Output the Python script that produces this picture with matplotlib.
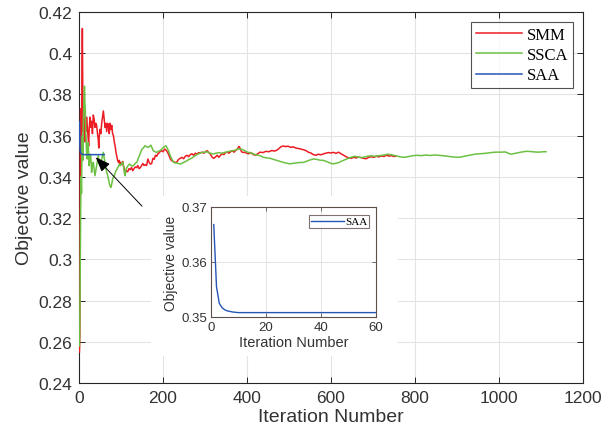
import numpy as np
import matplotlib
matplotlib.use("Agg")
import matplotlib.pyplot as plt
from matplotlib.patches import Rectangle

# SMM (red)
smm_it = [1, 2, 3, 4, 5, 6, 7, 8, 9, 10, 11, 12, 13, 14, 15, 16, 18, 20, 22, 23, 24, 26, 28, 30,
          32, 34, 36, 38, 40, 42, 44, 46, 47, 48, 50, 52, 54, 56, 58, 60, 62, 64, 66, 68, 70, 72,
          74, 76, 78, 80, 82, 84, 86, 88, 90, 92, 94, 96, 98, 100, 102, 104, 106, 108, 110, 113,
          116, 119, 122, 125, 128, 131, 134, 137, 140, 143, 146, 149, 152, 155, 158, 161, 164,
          167, 170, 173, 176, 179, 182, 185, 188, 191, 194, 197, 200, 204, 208, 212, 215, 218,
          221, 225, 229, 233, 237, 241, 245, 249, 253, 257, 261, 265, 269, 273, 277, 281, 285,
          289, 293, 297, 301, 305, 309, 313, 317, 321, 325, 329, 333, 337, 341, 345, 349, 353,
          357, 361, 365, 369, 373, 377, 381, 384, 387, 391, 395, 399, 404, 409, 414, 419, 424,
          431, 438, 445, 452, 459, 466, 473, 480, 486, 492, 498, 504, 510, 516, 522, 528, 534,
          540, 546, 552, 558, 564, 570, 576, 582, 588, 594, 600, 606, 612, 618, 624, 630, 636,
          642, 648, 654, 660, 666, 672, 678, 684, 690, 696, 702, 708, 714, 720, 726, 732, 738,
          744, 750, 755]
smm_val = [0.255, 0.263, 0.346, 0.373, 0.338, 0.365, 0.398, 0.412, 0.380, 0.362, 0.372, 0.360,
           0.368, 0.357, 0.366, 0.362, 0.369, 0.364, 0.358, 0.355, 0.362, 0.369, 0.364, 0.367,
           0.361, 0.370, 0.368, 0.364, 0.366, 0.365, 0.361, 0.358, 0.354, 0.359, 0.363, 0.361,
           0.366, 0.369, 0.372, 0.368, 0.364, 0.366, 0.362, 0.366, 0.365, 0.361, 0.366, 0.363,
           0.365, 0.361, 0.360, 0.357, 0.355, 0.352, 0.350, 0.348, 0.347, 0.348, 0.346, 0.347,
           0.346, 0.3475, 0.345, 0.344, 0.342, 0.343, 0.3425, 0.344, 0.3435, 0.3445, 0.343,
           0.344, 0.3448, 0.3445, 0.3455, 0.344, 0.3445, 0.3455, 0.3465, 0.3455, 0.346, 0.3455,
           0.3487, 0.347, 0.3462, 0.3465, 0.349, 0.3485, 0.3505, 0.350, 0.3512, 0.3518, 0.3524,
           0.3527, 0.3522, 0.3535, 0.3528, 0.3515, 0.350, 0.3485, 0.3478, 0.3474, 0.347, 0.3472,
           0.3485, 0.349, 0.3495, 0.3488, 0.350, 0.3505, 0.3498, 0.3508, 0.3512, 0.3505, 0.3515,
           0.351, 0.3518, 0.3516, 0.352, 0.3515, 0.3522, 0.3527, 0.3518, 0.351, 0.3495, 0.349,
           0.3497, 0.3505, 0.3495, 0.3505, 0.3512, 0.3508, 0.3518, 0.352, 0.3515, 0.3522, 0.3527,
           0.352, 0.3528, 0.3535, 0.3548, 0.3538, 0.3522, 0.3518, 0.352, 0.3515, 0.3512, 0.3518,
           0.351, 0.3505, 0.351, 0.352, 0.3518, 0.3524, 0.3522, 0.3528, 0.3525, 0.3532, 0.3545,
           0.355, 0.3547, 0.3549, 0.3543, 0.3546, 0.354, 0.3538, 0.3535, 0.3532, 0.3528, 0.352,
           0.3516, 0.3508, 0.3505, 0.351, 0.3507, 0.3512, 0.3515, 0.3518, 0.3516, 0.3519, 0.3514,
           0.352, 0.3512, 0.3505, 0.3498, 0.3492, 0.349, 0.3495, 0.3492, 0.3496, 0.3493, 0.349,
           0.3488, 0.3495, 0.3498, 0.3495, 0.350, 0.3497, 0.3502, 0.3499, 0.3505, 0.3501, 0.3503,
           0.3499, 0.3501]

# SSCA (green)
ssca_it = [1, 2, 3, 4, 5, 6, 7, 8, 9, 10, 11, 12, 13, 14, 15, 16, 17, 18, 19, 20, 21, 22, 23,
           24, 25, 26, 28, 30, 32, 34, 36, 38, 40, 42, 44, 46, 48, 50, 52, 54, 56, 58, 60, 62,
           64, 66, 68, 70, 72, 74, 76, 78, 80, 82, 84, 86, 88, 90, 92, 94, 96, 98, 100, 102, 104,
           106, 108, 110, 112, 114, 117, 120, 123, 126, 129, 132, 135, 138, 141, 144, 147, 150,
           153, 157, 161, 165, 168, 171, 174, 177, 181, 185, 189, 193, 197, 201, 204, 207, 210,
           213, 216, 219, 222, 225, 229, 233, 237, 241, 245, 249, 253, 257, 261, 265, 269, 273,
           277, 281, 285, 289, 294, 299, 304, 309, 314, 319, 324, 329, 334, 339, 344, 349, 354,
           359, 364, 369, 374, 379, 384, 389, 394, 399, 405, 411, 417, 423, 431, 439, 447, 455,
           463, 471, 479, 487, 495, 502, 510, 518, 526, 534, 542, 550, 558, 566, 574, 582, 590,
           598, 605, 612, 619, 626, 633, 641, 649, 657, 665, 673, 681, 689, 697, 705, 715, 725,
           735, 745, 755, 765, 775, 785, 795, 805, 815, 825, 835, 845, 855, 865, 875, 885, 895,
           905, 915, 925, 935, 945, 955, 965, 975, 985, 995, 1005, 1015, 1022, 1028, 1035, 1045,
           1055, 1065, 1075, 1085, 1095, 1105, 1112]
ssca_val = [0.258, 0.270, 0.300, 0.325, 0.340, 0.332, 0.352, 0.360, 0.348, 0.365, 0.372, 0.378,
            0.384, 0.376, 0.373, 0.362, 0.358, 0.352, 0.349, 0.3487, 0.353, 0.3567, 0.350,
            0.3454, 0.347, 0.351, 0.3503, 0.3422, 0.346, 0.3471, 0.344, 0.3406, 0.343, 0.3454,
            0.348, 0.3503, 0.347, 0.3454, 0.347, 0.3487, 0.350, 0.3519, 0.349, 0.3471, 0.344,
            0.3422, 0.341, 0.339, 0.337, 0.3355, 0.3349, 0.3365, 0.339, 0.3398, 0.3406, 0.3418,
            0.343, 0.3435, 0.3446, 0.345, 0.3462, 0.3455, 0.3458, 0.3468, 0.3471, 0.3455, 0.3418,
            0.3406, 0.3435, 0.3446, 0.3455, 0.3462, 0.3458, 0.3452, 0.3454, 0.346, 0.3468, 0.3471,
            0.349, 0.3503, 0.352, 0.3535, 0.354, 0.3551, 0.3546, 0.3543, 0.3548, 0.3554, 0.354,
            0.3527, 0.3522, 0.3519, 0.3525, 0.3527, 0.3535, 0.3543, 0.3548, 0.3551, 0.354, 0.3527,
            0.351, 0.3495, 0.3482, 0.3471, 0.3468, 0.3467, 0.3465, 0.3462, 0.3466, 0.347, 0.3474,
            0.3478, 0.3484, 0.3487, 0.3492, 0.3498, 0.3503, 0.3508, 0.3512, 0.3516, 0.3519, 0.352,
            0.3522, 0.3518, 0.3514, 0.3511, 0.3514, 0.3516, 0.3518, 0.3515, 0.3517, 0.352, 0.3522,
            0.3525, 0.3527, 0.3528, 0.3531, 0.3535, 0.3535, 0.3533, 0.3528, 0.3522, 0.3518,
            0.3515, 0.351, 0.3506, 0.3503, 0.3495, 0.3492, 0.349, 0.3485, 0.348, 0.3475, 0.347,
            0.3466, 0.3463, 0.3466, 0.3468, 0.347, 0.347, 0.3476, 0.3482, 0.3487, 0.3485, 0.3481,
            0.348, 0.3474, 0.3467, 0.3463, 0.3466, 0.347, 0.3477, 0.3483, 0.349, 0.3496, 0.350,
            0.3496, 0.3494, 0.3497, 0.3501, 0.3502, 0.350, 0.3503, 0.3506, 0.351, 0.3507, 0.3502,
            0.3497, 0.3495, 0.3499, 0.3503, 0.3505, 0.3503, 0.3506, 0.3504, 0.3506, 0.3505,
            0.3503, 0.3501, 0.3498, 0.3496, 0.3495, 0.3499, 0.3503, 0.3507, 0.3511, 0.3512,
            0.3514, 0.3516, 0.3519, 0.352, 0.352, 0.3521, 0.3515, 0.351, 0.3513, 0.3517, 0.3521,
            0.3524, 0.3523, 0.3521, 0.352, 0.3522, 0.3522]

# SAA (blue), also shown in the inset
saa_it = [1, 2, 3, 4, 5, 6, 7, 8, 9, 10, 15, 20, 30, 40, 50, 60]
saa_val = [0.3668, 0.3555, 0.3525, 0.3517, 0.3513, 0.3511, 0.3510, 0.3509, 0.35085, 0.3508,
           0.3508, 0.3508, 0.3508, 0.3508, 0.3508, 0.3508]

main_xticks = [0, 200, 400, 600, 800, 1000, 1200]
main_yticks = [0.24, 0.26, 0.28, 0.3, 0.32, 0.34, 0.36, 0.38, 0.4, 0.42]
main_ylabels = ["0.24", "0.26", "0.28", "0.3", "0.32", "0.34", "0.36", "0.38", "0.4", "0.42"]
ins_xticks = [0, 20, 40, 60]
ins_yticks = [0.35, 0.36, 0.37]

c_red = "#ec1c24"
c_green = "#6cc143"
c_blue = "#2655b5"
c_txt = "#333333"
c_ax = "#262626"
c_grid = "#e3e3e3"

plt.rcParams["font.family"] = ["Liberation Sans", "DejaVu Sans"]

fig = plt.figure(figsize=(6.07, 4.35), dpi=100)
ax = fig.add_axes([79/607, 1-384/435, (583-79)/607, (384-13)/435])

ax.plot(smm_it, smm_val, color=c_red, lw=1.1, label="SMM", zorder=3)
ax.plot(ssca_it, ssca_val, color=c_green, lw=1.1, label="SSCA", zorder=3)
ax.plot(saa_it, saa_val, color=c_blue, lw=1.1, label="SAA", zorder=4)

ax.set_xlim(0, 1200)
ax.set_ylim(0.24, 0.42)
ax.set_xticks(main_xticks)
ax.set_yticks(main_yticks)
ax.set_yticklabels(main_ylabels)
ax.grid(True, color=c_grid, lw=0.8)
ax.set_axisbelow(True)
ax.tick_params(direction="in", top=True, right=True, length=4, width=0.7,
               colors=c_ax, labelcolor=c_txt, labelsize=12.5, pad=5)
for s in ax.spines.values():
    s.set_color(c_ax)
    s.set_linewidth(0.8)
ax.set_xlabel("Iteration Number", fontsize=14, color=c_txt, labelpad=2)
ax.set_ylabel("Objective value", fontsize=14, color=c_txt, labelpad=4)

leg = ax.legend(loc="upper right", bbox_to_anchor=(1 - 10/504, 1 - 10/371),
                prop={"family": "Liberation Serif", "size": 12}, frameon=True, fancybox=False,
                edgecolor=c_ax, handlelength=2.8, handletextpad=0.25, labelspacing=0.25,
                borderpad=0.3, borderaxespad=0)
leg.get_frame().set_linewidth(0.8)

ax.annotate("", xy=(40, 0.3495), xytext=(150, 0.3258),
            arrowprops=dict(arrowstyle="-|>,head_length=0.9,head_width=0.35",
                            color="black", lw=0.7, shrinkA=0, shrinkB=0), zorder=5)

# white patch behind the inset
fig.add_artist(Rectangle((151/607, 1-357/435), (398-151)/607, (357-197)/435,
                         transform=fig.transFigure, facecolor="white", edgecolor="none",
                         zorder=1))

ins = fig.add_axes([211/607, 1-318/435, (376-211)/607, (318-208)/435], zorder=2)
ins.plot(saa_it, saa_val, color=c_blue, lw=1.0, label="SAA")
ins.set_xlim(0, 60)
ins.set_ylim(0.35, 0.37)
ins.set_xticks(ins_xticks)
ins.set_yticks(ins_yticks)
ins.grid(True, color=c_grid, lw=0.7)
ins.set_axisbelow(True)
ins.tick_params(direction="in", top=True, right=True, length=3, width=0.6,
                colors="#5e4f4a", labelcolor=c_txt, labelsize=9.5, pad=3)
for s in ins.spines.values():
    s.set_color("#5e4f4a")
    s.set_linewidth(0.8)
ins.set_xlabel("Iteration Number", fontsize=10.5, color=c_txt, labelpad=1)
ins.set_ylabel("Objective value", fontsize=10, color=c_txt, labelpad=2)
leg2 = ins.legend(loc="upper right", bbox_to_anchor=(1 - 7/165, 1 - 8/110),
                  prop={"family": "Liberation Serif", "size": 8}, frameon=True, fancybox=False,
                  edgecolor="#5e4f4a", handlelength=3.0, handletextpad=0.1,
                  borderpad=0.15, borderaxespad=0)
leg2.get_frame().set_linewidth(0.8)

fig.savefig("out.png", dpi=100)
